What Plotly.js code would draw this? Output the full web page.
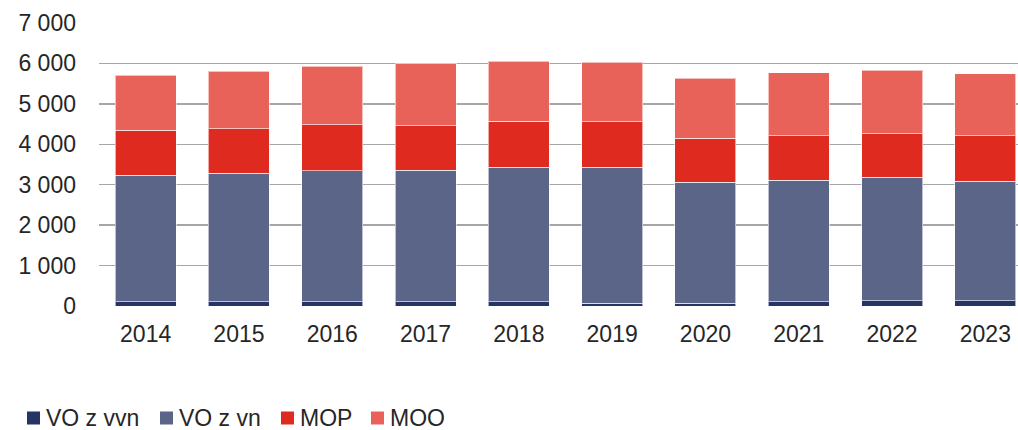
<!DOCTYPE html>
<html>
<head>
<meta charset="utf-8">
<script src="https://cdn.plot.ly/plotly-3.0.1.min.js"></script>
<style>html,body{margin:0;padding:0;background:#fff;}#chart{width:1018px;height:430px;}</style>
</head>
<body>
<div id="chart"></div>
<script>
const years = ["2014","2015","2016","2017","2018","2019","2020","2021","2022","2023"];
const voVvn = [107,100,100,100,100,74,74,107,132,132];
const voVn = [3131,3180,3246,3262,3328,3354,2983,2999,3048,2958];
const mop = [1105,1104,1137,1096,1137,1129,1088,1105,1080,1121];
const moo = [1368,1417,1450,1542,1484,1475,1492,1558,1566,1533];
const yTicks = [0,1000,2000,3000,4000,5000,6000,7000];
const yTickText = ["0","1 000","2 000","3 000","4 000","5 000","6 000","7 000"];

const names = ["VO z vvn","VO z vn","MOP","MOO"];
const colors = ["#253465","#5b6587","#df2a20","#e8625a"];
const series = [voVvn, voVn, mop, moo];

const traces = series.map((s,i)=>({
  type:"bar", x:years, y:s, name:names[i],
  marker:{color:colors[i], line:{color:"rgba(255,255,255,0.6)", width:1}},
  hoverinfo:"x+y+name", showlegend:false
}));

const W = 1018, H = 430, L = 99, R = 0, T = 23, B = 124;
const pw = W - L - R, ph = H - T - B;
const px2x = p => (p - L) / pw;
const py2y = p => (H - B - p) / ph;

const font = {family:"Liberation Sans, Arial, sans-serif", size:23, color:"#262626"};

// custom legend (layout positions, pixels)
const legSquareX = [27, 160, 281, 371];
const legY = 418, sq = 13;
const shapes = [], annotations = [];
names.forEach((n,i)=>{
  shapes.push({type:"rect", xref:"paper", yref:"paper",
    x0:px2x(legSquareX[i]), x1:px2x(legSquareX[i]+sq),
    y0:py2y(legY+sq/2), y1:py2y(legY-sq/2),
    fillcolor:colors[i], line:{width:0}});
  annotations.push({xref:"paper", yref:"paper", x:px2x(legSquareX[i]+sq+4), y:py2y(legY),
    xanchor:"left", yanchor:"middle", text:n, showarrow:false, font:font});
});

const layout = {
  width:W, height:H,
  margin:{l:L, r:R, t:T, b:B},
  barmode:"stack", bargap:0.346,
  paper_bgcolor:"#fff", plot_bgcolor:"#fff",
  font:font,
  showlegend:false,
  shapes:shapes, annotations:annotations,
  xaxis:{type:"category", range:[-0.5,9.35], showgrid:false, zeroline:false, showline:false,
         ticks:"", ticklabelstandoff:12, tickfont:font},
  yaxis:{range:[0,7000], tickvals:yTicks, ticktext:yTickText, showgrid:true, gridcolor:"#a6a6a6", gridwidth:1.5,
         zeroline:false, showline:false, ticks:"", ticklabelstandoff:22, tickfont:font}
};
Plotly.newPlot("chart", traces, layout, {displayModeBar:false, staticPlot:true});
</script>
</body>
</html>
